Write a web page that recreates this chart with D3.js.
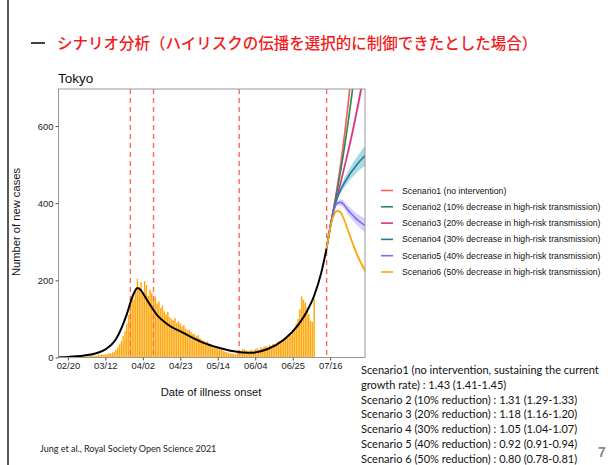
<!DOCTYPE html>
<html>
<head>
<meta charset="utf-8">
<script src="https://cdn.jsdelivr.net/npm/d3@7"></script>
<style>
  body { margin: 0; background: #fff; }
  svg { display: block; }
</style>
</head>
<body>
<svg id="slide" width="608" height="465"></svg>
<script>
// ---- data ----
const firstOnsetDay = "2020-02-20";
// daily new cases by date of illness onset, consecutive days from firstOnsetDay
const dailyCases = [
  1,2,1,3,2,2,4,3,2,3,
  4,3,5,4,6,5,4,7,6,8,
  7,9,8,11,10,13,15,20,26,34,
  42,55,68,88,110,140,165,150,178,204,182,
  195,170,198,188,160,176,168,150,158,140,
  145,128,135,120,112,118,105,100,96,102,
  90,94,88,80,84,75,70,72,66,62,
  60,55,58,50,46,44,40,42,36,33,
  30,28,24,22,20,22,17,15,14,12,
  11,10,9,8,12,14,16,22,20,18,14,
  18,20,16,22,24,20,26,25,28,30,
  27,32,30,35,34,38,42,40,45,48,
  52,55,60,58,68,75,88,100,125,158,
  150,142,130,112,95,92,152
];

// fitted epidemic curve
const fitDates = ["2020-02-15","2020-02-20","2020-03-03","2020-03-12","2020-03-18","2020-03-24",
  "2020-03-27","2020-03-30","2020-04-01","2020-04-02","2020-04-06","2020-04-10","2020-04-15",
  "2020-04-25","2020-05-05","2020-05-14","2020-05-23","2020-06-01","2020-06-11","2020-06-20",
  "2020-06-28","2020-07-03","2020-07-07","2020-07-11","2020-07-14"];
const fitValues = [0.6,1.5,7,21,48,112,155,180,174,167,137,110,89,63,40,26,16,12,22,46,84,120,160,220,283];

// intervention timing markers
const markerDates = ["2020-03-26","2020-04-08","2020-05-26","2020-07-14"];

// projections under each scenario
const projDates = ["2020-07-14","2020-07-16","2020-07-18","2020-07-20","2020-07-22","2020-07-24",
  "2020-07-26","2020-07-28","2020-07-30","2020-08-01","2020-08-03","2020-08-05"];
const s1Mid = [283,338,388,444,506,576,655,744,845,960,1090,1240];
const s1Lo  = [283,335,382,435,494,561,637,722,819,930,1056,1202];
const s1Hi  = [283,341,394,453,518,591,673,766,871,990,1124,1278];
const s2Mid = [283,338,387,435,488,545,608,676,750,832,920,1015];
const s2Lo  = [283,336,382,428,479,534,595,661,733,813,899,992];
const s2Hi  = [283,340,392,442,497,556,621,691,767,851,941,1038];
const s3Mid = [283,338,385,420,456,494,533,574,618,664,712,762];
const s3Lo  = [283,336,381,414,448,484,521,560,602,646,692,740];
const s3Hi  = [283,340,389,426,464,504,545,588,634,682,732,784];
const s4Mid = [283,338,383,414,436,453,468,482,494,506,516,525];
const s4Lo  = [283,336,379,408,427,441,454,465,475,485,492,499];
const s4Hi  = [283,340,387,420,445,465,482,499,513,527,540,551];
const s5Mid = [283,337,380,400,402,394,382,372,362,354,347,341];
const s5Lo  = [283,335,376,394,394,384,370,359,348,338,330,323];
const s5Hi  = [283,339,384,406,410,404,394,385,376,370,364,359];
const s6Mid = [283,335,368,380,375,355,329,303,279,257,238,222];
const s6Lo  = [283,334,366,377,371,350,323,297,272,250,230,214];
const s6Hi  = [283,336,370,383,379,360,335,309,286,264,246,230];

const scenarioLabels = [
  "Scenario1 (no intervention)",
  "Scenario2 (10% decrease in high-risk transmission)",
  "Scenario3 (20% decrease in high-risk transmission)",
  "Scenario4 (30% decrease in high-risk transmission)",
  "Scenario5 (40% decrease in high-risk transmission)",
  "Scenario6 (50% decrease in high-risk transmission)"
];

const yTicks = [0, 200, 400, 600];
const xTickDates = ["2020-02-20","2020-03-12","2020-04-02","2020-04-23","2020-05-14","2020-06-04","2020-06-25","2020-07-16"];
const xTickLabels = ["02/20","03/12","04/02","04/23","05/14","06/04","06/25","07/16"];

const reproductionLines = [
  "Scenario1 (no intervention, sustaining the current",
  "growth rate) : 1.43 (1.41-1.45)",
  "Scenario 2 (10% reduction) : 1.31 (1.29-1.33)",
  "Scenario 3 (20% reduction) : 1.18 (1.16-1.20)",
  "Scenario 4 (30% reduction) : 1.05 (1.04-1.07)",
  "Scenario 5 (40% reduction) : 0.92 (0.91-0.94)",
  "Scenario 6 (50% reduction) : 0.80 (0.78-0.81)"
];

// ---- drawing ----
const parse = d3.timeParse("%Y-%m-%d");
const svg = d3.select("#slide");

const palette = ["#F8605A", "#2E8B57", "#D63384", "#1E7F9A", "#7B6CF0", "#FFA500"];
const bandFill = ["#F9C6C3", "#B9DEC9", "#F2B8D3", "#9FD0DD", "#CFC9F7", "#FFE0A6"];

const plot = { left: 58.5, right: 365, top: 89, bottom: 357.5 };

const x = d3.scaleTime()
  .domain([new Date(2020, 1, 14, 18), new Date(2020, 7, 4, 12)])
  .range([plot.left, plot.right]);
const y = d3.scaleLinear()
  .domain([0, 696])
  .range([plot.bottom, plot.top]);

// slide frame line on the left
svg.append("line").attr("x1", 8).attr("x2", 8).attr("y1", 0).attr("y2", 465)
  .attr("stroke", "#222").attr("stroke-width", 1.5);

// slide heading
svg.append("line").attr("x1", 31).attr("x2", 45).attr("y1", 43).attr("y2", 43)
  .attr("stroke", "#111").attr("stroke-width", 1.6);
svg.append("text").attr("x", 57).attr("y", 48.5)
  .attr("font-family", "'Noto Sans CJK JP', sans-serif").attr("font-size", 15.5)
  .attr("font-weight", 500)
  .attr("fill", "#F21B1B")
  .text("シナリオ分析（ハイリスクの伝播を選択的に制御できたとした場合）");

// panel title
svg.append("text").attr("x", 58).attr("y", 83)
  .attr("font-family", "'Liberation Sans', Arial, sans-serif").attr("font-size", 13.5)
  .attr("fill", "#111").text("Tokyo");

const defs = svg.append("defs");
defs.append("clipPath").attr("id", "plotClip").append("rect")
  .attr("x", plot.left).attr("y", plot.top)
  .attr("width", plot.right - plot.left).attr("height", plot.bottom - plot.top);

const g = svg.append("g").attr("clip-path", "url(#plotClip)");

// daily bars
const start = parse(firstOnsetDay);
const barData = dailyCases.map((v, i) => ({ date: d3.timeDay.offset(start, i), v }));
const dayW = x(d3.timeDay.offset(start, 1)) - x(start);
const barW = dayW * 0.85;
g.append("g").selectAll("rect").data(barData).join("rect")
  .attr("x", d => x(d.date) - barW / 2)
  .attr("y", d => y(d.v))
  .attr("width", barW)
  .attr("height", d => y(0) - y(d.v))
  .attr("fill", "#FFAA14");

// marker lines
g.append("g").selectAll("line").data(markerDates).join("line")
  .attr("x1", d => x(parse(d))).attr("x2", d => x(parse(d)))
  .attr("y1", plot.top).attr("y2", plot.bottom)
  .attr("stroke", "#FF6A55").attr("stroke-width", 1.4)
  .attr("stroke-dasharray", "5,4");

// fitted curve
const fitData = fitDates.map((d, i) => ({ date: parse(d), v: fitValues[i] }));
g.append("path").datum(fitData)
  .attr("fill", "none").attr("stroke", "#000").attr("stroke-width", 2)
  .attr("d", d3.line().x(d => x(d.date)).y(d => y(d.v)).curve(d3.curveMonotoneX));

// scenario projections
const scen = [
  [s1Mid, s1Lo, s1Hi], [s2Mid, s2Lo, s2Hi], [s3Mid, s3Lo, s3Hi],
  [s4Mid, s4Lo, s4Hi], [s5Mid, s5Lo, s5Hi], [s6Mid, s6Lo, s6Hi]
];
const pd = projDates.map(parse);
const area = d3.area().x(d => x(d.date)).y0(d => y(d.lo)).y1(d => y(d.hi)).curve(d3.curveMonotoneX);
const line = d3.line().x(d => x(d.date)).y(d => y(d.v)).curve(d3.curveMonotoneX);
scen.forEach((s, k) => {
  const rows = pd.map((d, i) => ({ date: d, v: s[0][i], lo: s[1][i], hi: s[2][i] }));
  g.append("path").datum(rows).attr("fill", bandFill[k]).attr("opacity", 0.85).attr("d", area);
});
scen.forEach((s, k) => {
  const rows = pd.map((d, i) => ({ date: d, v: s[0][i] }));
  g.append("path").datum(rows).attr("fill", "none")
    .attr("stroke", palette[k]).attr("stroke-width", 1.6).attr("d", line);
});

// panel border
svg.append("rect").attr("x", plot.left).attr("y", plot.top)
  .attr("width", plot.right - plot.left).attr("height", plot.bottom - plot.top)
  .attr("fill", "none").attr("stroke", "#9a9a9a").attr("stroke-width", 1);

// axes
const yAxis = svg.append("g").attr("transform", `translate(${plot.left},0)`)
  .call(d3.axisLeft(y).tickValues(yTicks).tickSize(3).tickPadding(2));
const xAxis = svg.append("g").attr("transform", `translate(0,${plot.bottom})`)
  .call(d3.axisBottom(x).tickValues(xTickDates.map(parse)).tickSize(3).tickPadding(2)
    .tickFormat((d, i) => xTickLabels[i]));
[yAxis, xAxis].forEach(a => {
  a.select(".domain").remove();
  a.selectAll(".tick line").attr("stroke", "#555");
  a.selectAll(".tick text").attr("fill", "#222")
    .attr("font-family", "'Liberation Sans', Arial, sans-serif").attr("font-size", 9.4);
});

// axis titles
svg.append("text").attr("transform", "translate(20,222) rotate(-90)")
  .attr("text-anchor", "middle")
  .attr("font-family", "'Liberation Sans', Arial, sans-serif").attr("font-size", 11.2)
  .attr("fill", "#111").text("Number of new cases");
svg.append("text").attr("x", 211).attr("y", 396)
  .attr("text-anchor", "middle")
  .attr("font-family", "'Liberation Sans', Arial, sans-serif").attr("font-size", 11.2)
  .attr("fill", "#111").text("Date of illness onset");

// legend
const lg = svg.append("g").attr("transform", "translate(381,190.5)");
scenarioLabels.forEach((t, i) => {
  const row = lg.append("g").attr("transform", `translate(0,${i * 16.3})`);
  row.append("line").attr("x1", 0).attr("x2", 12).attr("y1", 0).attr("y2", 0)
    .attr("stroke", palette[i]).attr("stroke-width", 1.6);
  row.append("text").attr("x", 21).attr("y", 3)
    .attr("font-family", "'Liberation Sans', Arial, sans-serif").attr("font-size", 8.7)
    .attr("fill", "#111").text(t);
});

// reproduction numbers
const rt = svg.append("text")
  .attr("font-family", "Lato, 'Open Sans', sans-serif").attr("font-size", 11)
  .attr("fill", "#111");
reproductionLines.forEach((t, i) => {
  rt.append("tspan").attr("x", 361).attr("y", 374 + i * 14.8).text(t);
});

// citation
svg.append("text").attr("x", 40).attr("y", 452)
  .attr("font-family", "Lato, 'Open Sans', sans-serif").attr("font-size", 9)
  .attr("fill", "#222").text("Jung et al., Royal Society Open Science 2021");

// page number
svg.append("text").attr("x", 598).attr("y", 457)
  .attr("font-family", "'Liberation Sans', Arial, sans-serif").attr("font-size", 14)
  .attr("font-weight", "bold").attr("fill", "#8a8a8a").text("7");
</script>
</body>
</html>
